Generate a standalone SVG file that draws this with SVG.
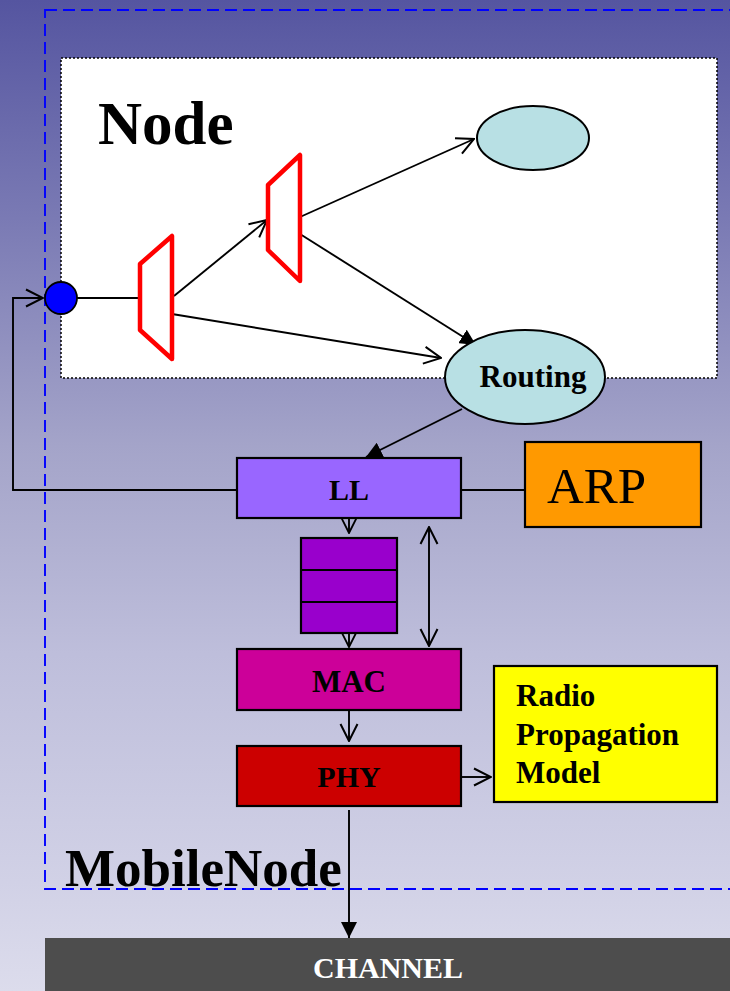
<svg xmlns="http://www.w3.org/2000/svg" width="730" height="991" viewBox="0 0 730 991">
<defs>
<linearGradient id="bg" x1="0" y1="0" x2="0" y2="1">
<stop offset="0" stop-color="#5555a0"/>
<stop offset="0.22" stop-color="#7a7ab4"/>
<stop offset="0.45" stop-color="#a4a4c9"/>
<stop offset="0.66" stop-color="#bebedb"/>
<stop offset="0.89" stop-color="#d1d1e6"/>
<stop offset="1" stop-color="#dcdcec"/>
</linearGradient>
<marker id="open" viewBox="0 0 20 20" refX="19" refY="10" markerWidth="20" markerHeight="20" markerUnits="userSpaceOnUse" orient="auto-start-reverse">
<path d="M2,1.5 L19,10 L2,18.5" fill="none" stroke="#000" stroke-width="2"/>
</marker>
<marker id="openSmall" viewBox="0 0 20 20" refX="19" refY="10" markerWidth="17" markerHeight="17" markerUnits="userSpaceOnUse" orient="auto-start-reverse">
<path d="M2,1.5 L19,10 L2,18.5" fill="none" stroke="#000" stroke-width="2.2"/>
</marker>
<marker id="filled" viewBox="0 0 16 16" refX="16" refY="8" markerWidth="16" markerHeight="16" markerUnits="userSpaceOnUse" orient="auto">
<path d="M0,0 L16,8 L0,16 z" fill="#000"/>
</marker>
<style>
.box{stroke:#000;stroke-width:2.2}
.lbl{font-family:"Liberation Serif","Times New Roman",serif;font-weight:bold;fill:#000}
.conn{stroke:#000;stroke-width:1.9;fill:none}
.trap{fill:none;stroke:#ff0000;stroke-width:4.5;stroke-linejoin:round}
.ell{fill:#b8e0e4;stroke:#000;stroke-width:2}
</style>
</defs>
<rect x="0" y="0" width="730" height="991" fill="url(#bg)"/>
<rect id="mobilenode-frame" x="45" y="10" width="700" height="879" fill="none" stroke="#0000ff" stroke-width="1.9" stroke-dasharray="12,6"/>
<g id="node-box">
<rect x="61" y="58" width="656" height="320" fill="#fff" stroke="#000" stroke-width="1.5" stroke-dasharray="2,2"/>
<text class="lbl" x="98" y="144" font-size="61">Node</text>
</g>
<g id="connectors">
<polyline class="conn" points="237,490 13,490 13,298 43,298" marker-end="url(#open)"/>
<line class="conn" x1="77" y1="298" x2="140" y2="298"/>
<line class="conn" x1="174" y1="296" x2="267" y2="220" marker-end="url(#open)"/>
<line class="conn" x1="172" y1="314" x2="441" y2="358" marker-end="url(#open)"/>
<line class="conn" x1="300" y1="217" x2="474" y2="139" marker-end="url(#open)"/>
<line class="conn" x1="300" y1="234" x2="476" y2="345" marker-end="url(#filled)"/>
<line class="conn" x1="462" y1="409" x2="366" y2="457" marker-end="url(#filled)"/>
<line class="conn" x1="461" y1="490" x2="525" y2="490"/>
<line class="conn" x1="349" y1="518" x2="349" y2="533" marker-end="url(#openSmall)"/>
<line class="conn" x1="349" y1="620" x2="349" y2="647" marker-end="url(#openSmall)"/>
<line class="conn" x1="429" y1="527" x2="429" y2="646" marker-start="url(#open)" marker-end="url(#open)"/>
<line class="conn" x1="349" y1="711" x2="349" y2="741" marker-end="url(#open)"/>
<line class="conn" x1="461" y1="777" x2="491" y2="777" marker-end="url(#open)"/>
<line class="conn" x1="349" y1="810" x2="349" y2="938" marker-end="url(#filled)"/>
</g>
<g id="port">
<circle cx="61" cy="298" r="16" fill="#0000ff" stroke="#000" stroke-width="1.8"/>
</g>
<g id="classifier1">
<polygon class="trap" points="140,264 172,236 172,359 140,330"/>
</g>
<g id="classifier2">
<polygon class="trap" points="268,185 300,155 300,281 268,250"/>
</g>
<g id="agent">
<ellipse class="ell" cx="533" cy="138" rx="56" ry="32"/>
</g>
<g id="routing">
<ellipse class="ell" cx="525" cy="377" rx="80" ry="47"/>
<text class="lbl" x="533" y="387" font-size="31" text-anchor="middle">Routing</text>
</g>
<g id="ll">
<rect class="box" x="237" y="458" width="224" height="60" fill="#9966ff"/>
<text class="lbl" x="349" y="500" font-size="30" text-anchor="middle">LL</text>
</g>
<g id="arp">
<rect class="box" x="525" y="442" width="176" height="85" fill="#ff9900"/>
<text x="547" y="503" font-size="51" font-family="'Liberation Serif','Times New Roman',serif" fill="#000">ARP</text>
</g>
<g id="queue">
<rect class="box" x="301" y="538" width="96" height="95" fill="#9900cc"/>
<line x1="301" y1="570" x2="397" y2="570" stroke="#000" stroke-width="2"/>
<line x1="301" y1="602" x2="397" y2="602" stroke="#000" stroke-width="2"/>
</g>
<g id="mac">
<rect class="box" x="237" y="649" width="224" height="61" fill="#cc0099"/>
<text class="lbl" x="349" y="692" font-size="31" text-anchor="middle">MAC</text>
</g>
<g id="phy">
<rect class="box" x="237" y="746" width="224" height="60" fill="#cc0000"/>
<text class="lbl" x="349" y="787" font-size="30" text-anchor="middle">PHY</text>
</g>
<g id="radio">
<rect class="box" x="494" y="666" width="223" height="136" fill="#ffff00"/>
<text class="lbl" font-size="31"><tspan x="516" y="706">Radio</tspan><tspan x="516" y="745">Propagation</tspan><tspan x="516" y="783">Model</tspan></text>
</g>
<text class="lbl" x="65" y="886" font-size="53">MobileNode</text>
<g id="channel">
<rect x="45" y="938" width="690" height="53" fill="#4d4d4d"/>
<text class="lbl" x="388" y="978" font-size="30" text-anchor="middle" style="fill:#fff">CHANNEL</text>
</g>
</svg>
